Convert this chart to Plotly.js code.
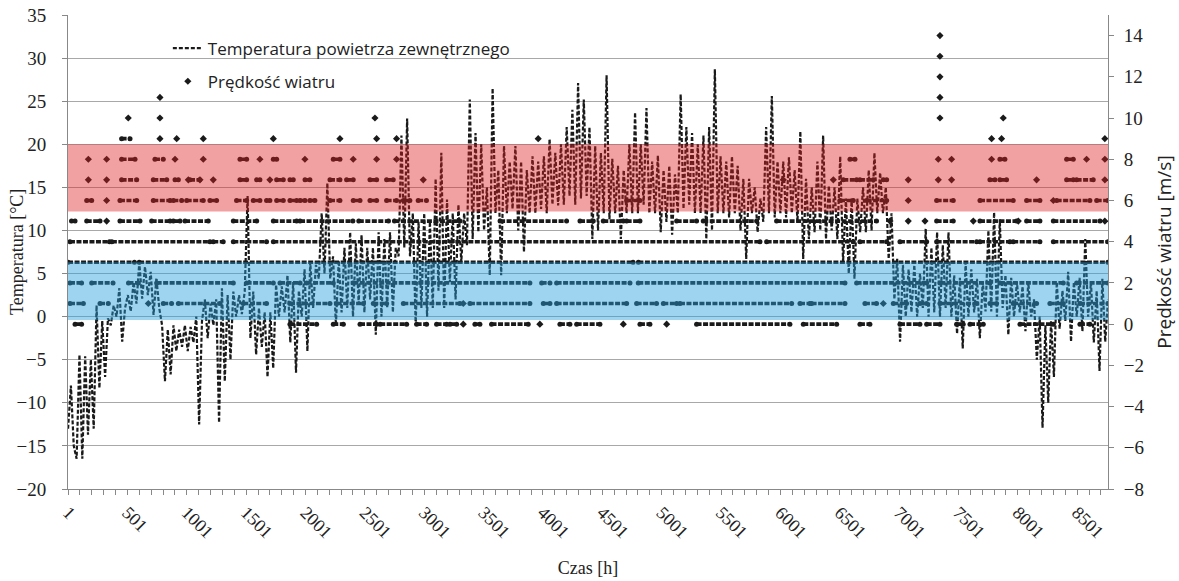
<!DOCTYPE html>
<html>
<head>
<meta charset="utf-8">
<script src="https://cdn.plot.ly/plotly-3.0.1.min.js"></script>
<style>html,body{margin:0;padding:0;background:#fff;}#chart{width:1179px;height:581px;}</style>
</head>
<body>
<div id="chart"></div>
<script>
// Temperature (°C) read every 24 h (hour 1, 25, 49, ...), alternating daytime / night-time readings
const tempStepHours = 24;
const temperature = [
 -13,-8,-15,-16.5,-4.4,-16.5,-4.6,-13.7,-5,-13,
 1.3,-8.3,-0.5,-7,-0.2,-1,1.3,0,3.3,-2.9,
 1,2.5,0.6,4,1.5,6.3,2.1,5.8,2.5,5.2,
 0.2,4.5,1,-1,-7.5,-1.5,-6.7,-1,-4,-1.5,
 -3.5,-1,-4,-1.2,-3,0,-12.5,-0.5,2,-2.5,
 1.5,-1,2,-12.3,3.3,-7.5,2.5,-5,2.9,0,
 2.5,0.3,2.9,14,-2.5,2.9,-4.4,1,-3.5,0.5,
 -7,0.5,-6,3.7,0,3.5,0.5,4.8,-3,4,
 -6.5,3,0,5.5,-4,6.3,1,6,4.4,12,
 5,15.5,4.4,7,-1,6.5,0.5,8,1,9.8,
 0,8.5,1.5,9.5,0.5,8,2,8,-2.1,9.8,
 0,9,1,9.8,0.5,8,7,21,8,23,
 7,12,-1,11,1,12,0,11,1,16,
 3,19,1,13.6,4,12,2,13,6.3,12,
 8.3,25.2,9,21.3,9.8,20,10,15,4.8,26.5,
 12,17,4.8,19.8,12,18,12.5,19.8,10,18,
 7.5,17,12,18.6,12,18,12.5,18.6,12,20.6,
 13,19,12.9,20,13,22,14,24,13,27.1,
 13.7,25.2,14,22,9,19.8,10,19,12,28,
 11.3,18.3,12,17.5,9,17,12,20,12,23.7,
 12,20,13,24.2,12,18,12,18.7,9.8,17,
 11,17.5,9.5,16.5,12,25.8,12.5,22,13,21.3,
 12,20,12,21,9,22,10,28.7,12,18.6,
 12,18,11.5,18.6,12,17.5,10,16,6.7,16,
 12,15,9.8,13.7,11,22,12,25.6,11.5,18,
 12,18,11.5,18.5,12,17,11,21.5,6.7,16,
 9,15,9.8,18,10,21,9,15.2,10,15,
 9,18.6,6.3,13.7,5,13.7,4.4,13.7,9.8,15,
 9.8,17,10,19,12,16.7,12,15,6.7,12,
 2,6.7,-2.9,6,0,5.5,0.5,6,0,5,
 1,10.2,0,8,0.5,9.8,0,8.3,1,9.8,
 0,4.8,-2,4.5,-3.7,6.3,0,5.5,0.5,4.4,
 -2.5,4,0.6,10,0.6,12.1,0,11.3,1,4.8,
 -2.1,4.5,0,4,0.5,3.5,-1.7,4,0,2,
 -5,0,-12.9,-1,-10,-0.5,-7,4,-1.4,3,
 -0.5,5.2,-2.9,4,0,4.5,-1.7,9,0,4,
 -3,3,-6.3,4.4,-2.9,2
];

// Wind speed (m/s): hour ranges [start, end] where the dots form continuous rows
const wind0Rows = [[60,115],[1870,2095],[2235,2320],[2460,2600],[2630,2853],[2937,3021],[3105,3190],[3218,3274],[3428,3470],[3568,3877],[4144,4228],[4285,4481],[4818,4902],[5295,6081],[6194,6475],[6671,6755],[7008,7176],[7233,7345],[7485,7541],[7598,7710],[8019,8300],[8524,8608]];
const wind1Rows = [[17,130],[270,340],[803,873],[930,1280],[1477,1673],[1870,2207],[2263,2488],[2572,2684],[2825,3302],[3386,3891],[4004,4060],[4116,4706],[4790,4958],[5015,5127],[5155,6096],[6166,6250],[6264,6545],[6713,6811],[6952,7064],[7176,7233],[7345,7654],[7766,7822],[7962,8159],[8271,8384],[8524,8760]];
const wind2Rows = [[17,115],[200,380],[510,593],[747,1393],[1505,1730],[1786,1955],[2010,2235],[2403,3891],[3990,4060],[4116,4734],[4804,6545],[6643,7233],[7345,7766],[7850,8384],[8496,8760]];
const wind3Rows = [[1,560],[600,4760],[4805,8760]];
const wind4Rows = [[17,350],[370,1196],[1224,1308],[1393,1673],[1730,5829],[5885,6615],[6671,6896],[7008,7233],[7317,7654],[7682,7934],[7962,8187],[8300,8760]];
const wind5Rows = [[30,60],[158,270],[438,607],[705,860],[888,944],[986,1182],[1393,1590],[1730,1926],[1955,2400],[2450,2700],[2750,3302],[3640,4200],[4313,4425],[4509,4678],[4706,4818],[5127,5295],[5351,5801],[5969,6811],[7317,7457],[7682,7990],[8075,8187],[8300,8693]];
const wind6Rows = [[158,200],[438,579],[719,860],[888,958],[1000,1140],[1196,1252],[1420,1505],[1561,1617],[1673,1701],[1758,1814],[1870,1926],[1955,1997],[2038,2080],[2207,2291],[2403,2460],[2544,2600],[2684,2768],[2825,2880],[2950,3020],[4706,4818],[6503,6615],[6727,6896],[7317,7457],[7682,7962],[8075,8187],[8328,8608],[8665,8760]];
const wind7Rows = [[452,579],[719,832],[902,930],[1028,1110],[1449,1505],[1589,1617],[1758,1814],[1870,1898],[1997,2038],[2207,2291],[2347,2403],[2544,2600],[2684,2740],[6531,6643],[6671,6783],[6868,6896],[7766,7808],[7850,7906],[8412,8468],[8496,8636]];
const wind8Rows = [[452,565],[733,803],[1449,1505],[1730,1758],[2235,2291],[6587,6629],[7850,7892],[8412,8468]];
const wind9Rows = [[452,523]];
const windRowLevels = [0,1,2,3,4,5,6,7,8,9];

// Wind speed: isolated readings (hour, m/s)
const windSingleHours  = [677,3330,6868, 3330,3975,4678,5043, 326,6924,7078,7219,7626,8005,8734, 326,7078,8300,
  172,326,1014,1112,1224,1701,2993,6025,6447,7078,7331,7443,8159,8734,
  172,326,902,1140,1617,1996,2403,2600,2768,7331,7443,7780,8580,8734,
  775,916,1140,1730,2291,2600,2768,3961,7780,7864,8734,
  508,775,2586,7345,7878, 775,7345, 7345, 7345, 7345];
const windSingleSpeeds = [1,1,1, 0,0,0,0, 5,5,5,5,5,5,5, 6,6,6,
  7,7,7,7,7,7,7,7,7,7,7,7,7,7,
  8,8,8,8,8,8,8,8,8,8,8,8,8,8,
  9,9,9,9,9,9,9,9,9,9,9,
  10,10,10,10,10, 11,11, 12, 13, 14];

const xTickVals = [1,501,1001,1501,2001,2501,3001,3501,4001,4501,5001,5501,6001,6501,7001,7501,8001,8501];
const tempTicks = [-20,-15,-10,-5,0,5,10,15,20,25,30,35];
const windTicks = [-8,-6,-4,-2,0,2,4,6,8,10,12,14];

// Build traces
const tempX = temperature.map((_, i) => 1 + i * tempStepHours);
const allRows = [wind0Rows,wind1Rows,wind2Rows,wind3Rows,wind4Rows,wind5Rows,wind6Rows,wind7Rows,wind8Rows,wind9Rows];
const rowX = [], rowY = [];
allRows.forEach((rows, k) => {
  rows.forEach(r => { rowX.push(r[0], r[1], null); rowY.push(windRowLevels[k], windRowLevels[k], null); });
});

const ink = '#1a1a1a';
const traces = [
  {
    x: rowX, y: rowY, yaxis: 'y2', type: 'scatter', mode: 'lines+markers',
    line: {color: ink, width: 3.6, dash: '5px,1.5px'},
    marker: {symbol: 'circle', size: 5, color: ink},
    showlegend: false, legendgroup: 'wind', hoverinfo: 'skip', connectgaps: false
  },
  {
    x: windSingleHours, y: windSingleSpeeds, yaxis: 'y2', type: 'scatter', mode: 'markers',
    name: 'Prędkość wiatru', legendgroup: 'wind', legendrank: 2,
    marker: {symbol: 'diamond', size: 5.5, color: ink}
  },
  {
    x: tempX, y: temperature, type: 'scatter', mode: 'lines',
    name: 'Temperatura powietrza zewnętrznego', legendgroup: 'temp', legendrank: 1,
    line: {color: ink, width: 2.2, dash: '4px,2px'}
  }
];

const serif = 'Liberation Serif, Times New Roman, serif';
const sans = 'Open Sans, Noto Sans, sans-serif';
const layout = {
  width: 1179, height: 581,
  margin: {l: 68, r: 71, t: 15, b: 92},
  paper_bgcolor: '#fff', plot_bgcolor: '#fff',
  showlegend: true,
  legend: {x: 0.096, y: 0.967, xanchor: 'left', yanchor: 'top', bgcolor: 'rgba(0,0,0,0)',
    font: {family: sans, size: 17, color: '#222'}, tracegroupgap: 8, traceorder: 'grouped'},
  xaxis: {
    range: [0.5, 8760.5], tickmode: 'array', tickvals: xTickVals, ticktext: xTickVals.map(String),
    tickangle: 45, ticks: 'outside', ticklen: 5, tickcolor: '#888',
    minor: {dtick: 100, tick0: 1, ticks: 'outside', ticklen: 5, tickcolor: '#888', showgrid: false},
    showline: true, linecolor: '#888', linewidth: 1, showgrid: false, zeroline: false,
    tickfont: {family: serif, size: 18, color: '#222'},
    title: {text: 'Czas [h]', font: {family: serif, size: 18, color: '#222'}, standoff: 20}
  },
  yaxis: {
    range: [-20, 35], tickmode: 'array', tickvals: tempTicks,
    showgrid: true, gridcolor: '#a8a8a8', gridwidth: 1, zeroline: false,
    showline: true, linecolor: '#888', ticks: 'outside', ticklen: 5, tickcolor: '#888',
    ticklabelstandoff: 12,
    tickfont: {family: serif, size: 19, color: '#222'}
  },
  yaxis2: {
    range: [-8, 15], overlaying: 'y', side: 'right', tickmode: 'array', tickvals: windTicks,
    showgrid: false, zeroline: false, showline: true, linecolor: '#888',
    ticks: 'outside', ticklen: 5, tickcolor: '#888', ticklabelstandoff: 6,
    tickfont: {family: serif, size: 19, color: '#222'},
    title: {text: 'Prędkość wiatru [m/s]', font: {family: sans, size: 19, color: '#222'}, standoff: 14}
  },
  annotations: [
    {text: 'Temperatura [°C]', xref: 'paper', yref: 'paper', x: -0.049, y: 0.5,
      xanchor: 'center', yanchor: 'middle', textangle: -90, showarrow: false,
      font: {family: serif, size: 18, color: '#222'}}
  ],
  shapes: [
    {type: 'rect', xref: 'paper', x0: 0, x1: 1, yref: 'y', y0: 12.2, y1: 20,
      fillcolor: 'rgba(222,30,30,0.42)', line: {width: 0}, layer: 'above'},
    {type: 'rect', xref: 'paper', x0: 0, x1: 1, yref: 'y', y0: -0.4, y1: 6.3,
      fillcolor: 'rgba(40,160,220,0.45)', line: {width: 0}, layer: 'above'}
  ]
};

Plotly.newPlot('chart', traces, layout, {displayModeBar: false, staticPlot: true});
</script>
</body>
</html>
